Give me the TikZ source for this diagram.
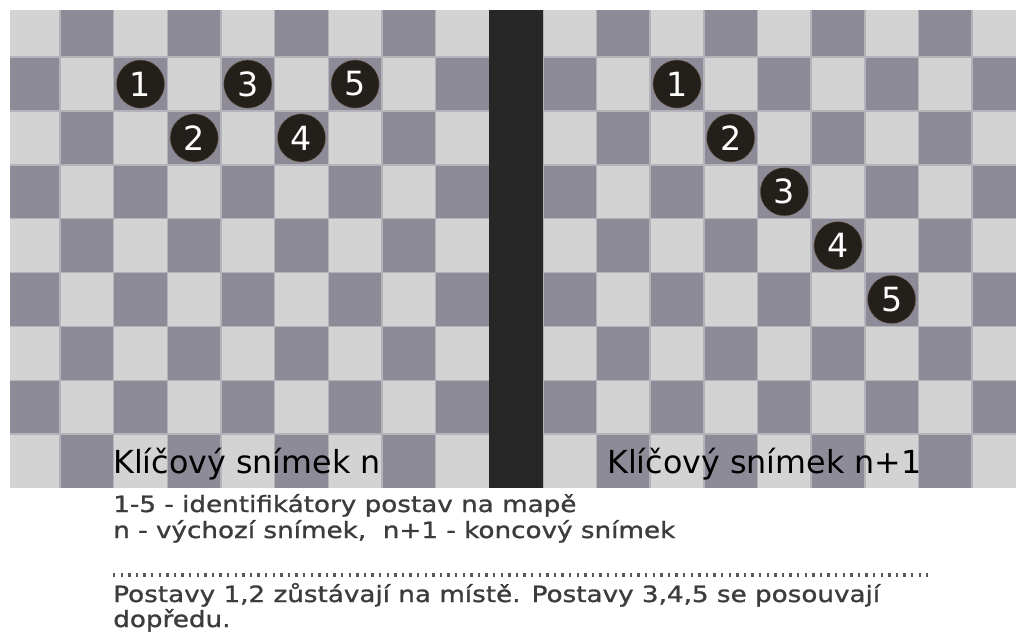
\documentclass[tikz,border=0pt]{standalone}
\usepackage{fontspec}
\setmainfont{DejaVu Sans}
\newfontfamily\notefont[FakeStretch=1.17,FakeBold=1.2]{DejaVu Sans}
\usetikzlibrary{positioning}
\definecolor{light}{HTML}{D3D3D3}
\definecolor{dark}{HTML}{8D8B97}
\definecolor{seam}{HTML}{B4B3B9}
\definecolor{bar}{HTML}{272727}
\definecolor{token}{HTML}{231F1B}
\definecolor{rim}{HTML}{6E5A3A}
\definecolor{note}{HTML}{3C3C3C}

\begin{document}
\begin{tikzpicture}[x=.75pt,y=-.75pt,
  token/.style={circle,fill=token,draw=rim,densely dotted,line width=.6pt,minimum size=36pt,inner sep=0pt,text=white,font=\fontsize{25}{25}\selectfont},
  caption/.style={anchor=base west,inner sep=0pt,text=black,font=\fontsize{23.8}{24}\selectfont},
  noteline/.style={anchor=base west,inner sep=0pt,text=note,font=\notefont\fontsize{16.8}{19}\selectfont}]
\useasboundingbox (0,0) rectangle (1016,640);
% board
\begin{scope}
\clip (10,10) rectangle (1016,488);
\fill[light] (10,10) rectangle (1016,488);
\foreach \c in {0,...,18}{\foreach \r in {0,...,8}{
  \pgfmathparse{int(mod(\c+\r,2))}
  \ifnum\pgfmathresult=1 \fill[dark] ({6.4+53.65*\c},{3.3+53.85*\r}) rectangle ++(53.65,53.85);\fi}}
\foreach \c in {1,...,18} \draw[seam,line width=1.1pt] ({6.4+53.65*\c},10) -- ++(0,478);
\foreach \r in {1,...,8} \draw[seam,line width=1.1pt] (10,{3.3+53.85*\r}) -- ++(1006,0);
\end{scope}
\fill[bar] (489,10) rectangle (543,488);
% tokens, frame n and frame n+1
\foreach \n/\c/\r in {1/2/1,2/3/2,3/4/1,4/5/2,5/6/1}
  \node[token] (l\n) at ({6.4+53.65*(\c+.5)},{3.3+53.85*(\r+.5)}) {\n};
\foreach \n/\c/\r in {1/12/1,2/13/2,3/14/3,4/15/4,5/16/5}
  \node[token] (r\n) at ({6.4+53.65*(\c+.5)},{3.3+53.85*(\r+.5)}) {\n};
\node[caption] (capl) at (113,473) {Klíčový snímek n};
\node[caption] (capr) at (607,473) {Klíčový snímek n+1};
% legend
\node[noteline] (n1) at (113,512) {1-5 - identifikátory postav na mapě};
\node[noteline] (n2) at (113,538) {n - výchozí snímek,\ \ n+1 - koncový snímek};
\coordinate (ra) at (113,575);\coordinate (rb) at (928,575);
\draw[note!85,line width=2.3pt,dash pattern=on 1.8pt off 3.9pt] (ra)--(rb);
\node[noteline] (n3) at (113,602) {Postavy 1,2 zůstávají na místě. Postavy 3,4,5 se posouvají};
\node[noteline] (n4) at (113,627) {dopředu.};
\end{tikzpicture}
\end{document}
